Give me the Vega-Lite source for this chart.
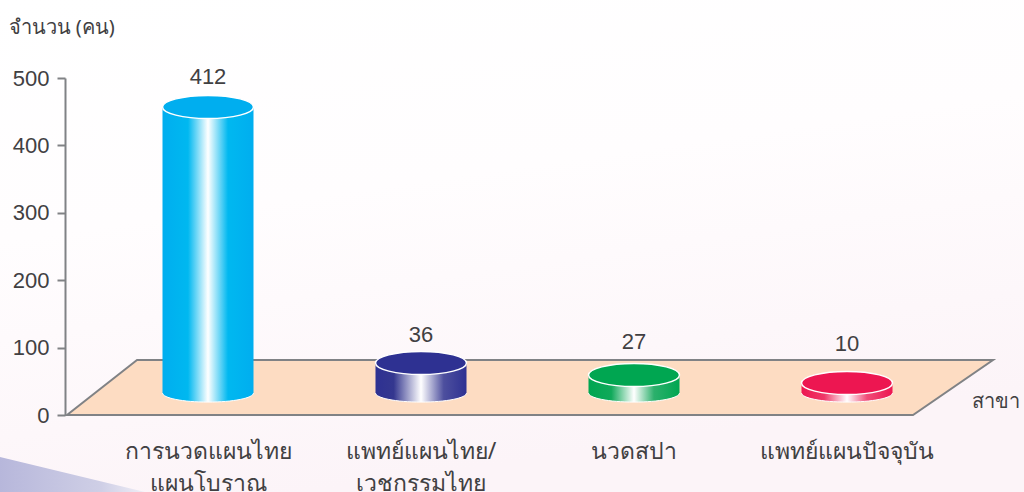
{
"$schema":"https://vega.github.io/schema/vega-lite/v6.json",
"width":959,"height":337,"autosize":"none","padding":{"left":65,"top":78,"right":0,"bottom":77},
"background":"white",
"config":{"view":{"stroke":null},"font":"Liberation Sans"},
"data":{"values":[
{"category":"การนวดแผนไทย\nแผนโบราณ","value":412},
{"category":"แพทย์แผนไทย/\nเวชกรรมไทย","value":36},
{"category":"นวดสปา","value":27},
{"category":"แพทย์แผนปัจจุบัน","value":10}]},
"resolve":{"scale":{"x":"independent","y":"independent","color":"independent"}},
"layer":[
{"data":{"values":[{"from":0,"to":1}]},
 "mark":{"type":"rect","color":{"gradient":"linear","x1":0,"y1":0,"x2":0.3,"y2":1,"stops":[{"offset":0,"color":"#ffffff"},{"offset":0.45,"color":"#fffdfe"},{"offset":1,"color":"#fcf4f8"}]}},
 "encoding":{"x":{"field":"from","type":"quantitative","scale":{"domain":[0,1],"range":[-65,959]},"axis":null},"x2":{"field":"to"},
 "y":{"field":"from","type":"quantitative","scale":{"domain":[0,1],"range":[414,-78]},"axis":null},"y2":{"field":"to"}}},
{"data":{"values":[{"across":0,"edge":457,"foot":492},{"across":145,"edge":492,"foot":492}]},
 "mark":{"type":"area","color":{"gradient":"linear","x1":0,"y1":0,"x2":1,"y2":0,"stops":[{"offset":0,"color":"#b7b7db"},{"offset":0.7,"color":"#cfcfe6"},{"offset":1,"color":"#f0eef6"}]}},
 "encoding":{"x":{"field":"across","type":"quantitative","scale":{"domain":[0,1024],"range":[-65,959]},"axis":null},
 "y":{"field":"edge","type":"quantitative","scale":{"domain":[0,492],"range":[-78,414]},"axis":null},"y2":{"field":"foot"}}},
{"data":{"values":[{"rise":0,"left":2,"right":848},{"rise":81.6,"left":72,"right":928}]},
 "mark":{"type":"area","orient":"horizontal","color":"#fddcc2","stroke":"#808285","strokeWidth":2},
 "encoding":{"x":{"field":"left","type":"quantitative","scale":{"domain":[0,959],"nice":false},"axis":null},"x2":{"field":"right"},
 "y":{"field":"rise","type":"quantitative","scale":{"domain":[0,500],"nice":false},
  "axis":{"values":[0,100,200,300,400,500],"grid":false,"zindex":1,"domainColor":"#808285","domainWidth":2,"tickColor":"#808285","tickWidth":2,"tickSize":8,"labelFontSize":22,"labelColor":"#414042","labelPadding":8,"labelFont":"Liberation Sans",
  "title":"จำนวน (คน)","titleAngle":0,"titleAlign":"left","titleBaseline":"middle","titleX":-57,"titleY":-51,"titleFontSize":20,"titleFontWeight":"normal","titleColor":"#414042","titleFont":"Noto Sans"}}}},
{"transform":[{"filter":"datum.value==412"}],
 "mark":{"type":"bar","width":91,"color":{"gradient":"linear","x1":0,"y1":0,"x2":1,"y2":0,"stops":[{"offset":0,"color":"#00aeef"},{"offset":0.28,"color":"#00b8f0"},{"offset":0.5,"color":"#ffffff"},{"offset":0.72,"color":"#00b8f0"},{"offset":1,"color":"#00aeef"}]}},
 "encoding":{"x":{"field":"category","type":"nominal","scale":{"domain":["การนวดแผนไทย\nแผนโบราณ","แพทย์แผนไทย/\nเวชกรรมไทย","นวดสปา","แพทย์แผนปัจจุบัน"],"range":[36.5,888.5],"paddingInner":0,"paddingOuter":0},
  "axis":{"domain":false,"ticks":false,"grid":false,"zindex":1,"labelAngle":0,"labelLimit":0,"labelFontSize":23,"labelColor":"#414042","labelPadding":25,"labelLineHeight":32,"labelBaseline":"top","labelFont":"Noto Sans","labelExpr":"split(datum.label,'\\n')",
  "title":"สาขา","titleX":906,"titleY":-14,"titleAlign":"left","titleBaseline":"middle","titleFontSize":20,"titleFontWeight":"normal","titleColor":"#414042","titleFont":"Noto Sans"}},
 "y":{"field":"value","type":"quantitative","scale":{"domain":[0,10,27,36,412],"range":[315,305,297,285,29]},"axis":null},"y2":{"datum":0}}},
{"transform":[{"filter":"datum.value==412"}],
 "mark":{"type":"point","filled":true,"size":8281,"shape":"M-1,0A1,0.2,0,0,0,1,0","opacity":1,"stroke":"white","strokeWidth":1,"color":{"gradient":"linear","x1":0,"y1":0,"x2":1,"y2":0,"stops":[{"offset":0,"color":"#00aeef"},{"offset":0.28,"color":"#00b8f0"},{"offset":0.5,"color":"#ffffff"},{"offset":0.72,"color":"#00b8f0"},{"offset":1,"color":"#00aeef"}]}},
 "encoding":{"x":{"field":"category","type":"nominal","scale":{"domain":["การนวดแผนไทย\nแผนโบราณ","แพทย์แผนไทย/\nเวชกรรมไทย","นวดสปา","แพทย์แผนปัจจุบัน"],"range":[36.5,888.5],"paddingInner":0,"paddingOuter":0},"axis":null},
 "y":{"datum":0,"type":"quantitative","scale":{"domain":[0,10,27,36,412],"range":[315,305,297,285,29]},"axis":null}}},
{"transform":[{"filter":"datum.value==36"}],
 "mark":{"type":"bar","width":91,"color":{"gradient":"linear","x1":0,"y1":0,"x2":1,"y2":0,"stops":[{"offset":0,"color":"#2e3192"},{"offset":0.2,"color":"#34378f"},{"offset":0.5,"color":"#ffffff"},{"offset":0.75,"color":"#4d4f9e"},{"offset":1,"color":"#2e3192"}]}},
 "encoding":{"x":{"field":"category","type":"nominal","scale":{"domain":["การนวดแผนไทย\nแผนโบราณ","แพทย์แผนไทย/\nเวชกรรมไทย","นวดสปา","แพทย์แผนปัจจุบัน"],"range":[36.5,888.5],"paddingInner":0,"paddingOuter":0},"axis":null},
 "y":{"field":"value","type":"quantitative","scale":{"domain":[0,10,27,36,412],"range":[315,305,297,285,29]},"axis":null},"y2":{"datum":0}}},
{"transform":[{"filter":"datum.value==36"}],
 "mark":{"type":"point","filled":true,"size":8281,"shape":"M-1,0A1,0.2,0,0,0,1,0","opacity":1,"stroke":"white","strokeWidth":1,"color":{"gradient":"linear","x1":0,"y1":0,"x2":1,"y2":0,"stops":[{"offset":0,"color":"#2e3192"},{"offset":0.2,"color":"#34378f"},{"offset":0.5,"color":"#ffffff"},{"offset":0.75,"color":"#4d4f9e"},{"offset":1,"color":"#2e3192"}]}},
 "encoding":{"x":{"field":"category","type":"nominal","scale":{"domain":["การนวดแผนไทย\nแผนโบราณ","แพทย์แผนไทย/\nเวชกรรมไทย","นวดสปา","แพทย์แผนปัจจุบัน"],"range":[36.5,888.5],"paddingInner":0,"paddingOuter":0},"axis":null},
 "y":{"datum":0,"type":"quantitative","scale":{"domain":[0,10,27,36,412],"range":[315,305,297,285,29]},"axis":null}}},
{"transform":[{"filter":"datum.value==27"}],
 "mark":{"type":"bar","width":91,"color":{"gradient":"linear","x1":0,"y1":0,"x2":1,"y2":0,"stops":[{"offset":0,"color":"#00a651"},{"offset":0.25,"color":"#10a95a"},{"offset":0.5,"color":"#ffffff"},{"offset":0.72,"color":"#2cb06c"},{"offset":1,"color":"#00a651"}]}},
 "encoding":{"x":{"field":"category","type":"nominal","scale":{"domain":["การนวดแผนไทย\nแผนโบราณ","แพทย์แผนไทย/\nเวชกรรมไทย","นวดสปา","แพทย์แผนปัจจุบัน"],"range":[36.5,888.5],"paddingInner":0,"paddingOuter":0},"axis":null},
 "y":{"field":"value","type":"quantitative","scale":{"domain":[0,10,27,36,412],"range":[315,305,297,285,29]},"axis":null},"y2":{"datum":0}}},
{"transform":[{"filter":"datum.value==27"}],
 "mark":{"type":"point","filled":true,"size":8281,"shape":"M-1,0A1,0.2,0,0,0,1,0","opacity":1,"stroke":"white","strokeWidth":1,"color":{"gradient":"linear","x1":0,"y1":0,"x2":1,"y2":0,"stops":[{"offset":0,"color":"#00a651"},{"offset":0.25,"color":"#10a95a"},{"offset":0.5,"color":"#ffffff"},{"offset":0.72,"color":"#2cb06c"},{"offset":1,"color":"#00a651"}]}},
 "encoding":{"x":{"field":"category","type":"nominal","scale":{"domain":["การนวดแผนไทย\nแผนโบราณ","แพทย์แผนไทย/\nเวชกรรมไทย","นวดสปา","แพทย์แผนปัจจุบัน"],"range":[36.5,888.5],"paddingInner":0,"paddingOuter":0},"axis":null},
 "y":{"datum":0,"type":"quantitative","scale":{"domain":[0,10,27,36,412],"range":[315,305,297,285,29]},"axis":null}}},
{"transform":[{"filter":"datum.value==10"}],
 "mark":{"type":"bar","width":91,"color":{"gradient":"linear","x1":0,"y1":0,"x2":1,"y2":0,"stops":[{"offset":0,"color":"#ed1651"},{"offset":0.25,"color":"#ef3768"},{"offset":0.5,"color":"#ffffff"},{"offset":0.72,"color":"#f04c78"},{"offset":1,"color":"#ed1651"}]}},
 "encoding":{"x":{"field":"category","type":"nominal","scale":{"domain":["การนวดแผนไทย\nแผนโบราณ","แพทย์แผนไทย/\nเวชกรรมไทย","นวดสปา","แพทย์แผนปัจจุบัน"],"range":[36.5,888.5],"paddingInner":0,"paddingOuter":0},"axis":null},
 "y":{"field":"value","type":"quantitative","scale":{"domain":[0,10,27,36,412],"range":[315,305,297,285,29]},"axis":null},"y2":{"datum":0}}},
{"transform":[{"filter":"datum.value==10"}],
 "mark":{"type":"point","filled":true,"size":8281,"shape":"M-1,0A1,0.2,0,0,0,1,0","opacity":1,"stroke":"white","strokeWidth":1,"color":{"gradient":"linear","x1":0,"y1":0,"x2":1,"y2":0,"stops":[{"offset":0,"color":"#ed1651"},{"offset":0.25,"color":"#ef3768"},{"offset":0.5,"color":"#ffffff"},{"offset":0.72,"color":"#f04c78"},{"offset":1,"color":"#ed1651"}]}},
 "encoding":{"x":{"field":"category","type":"nominal","scale":{"domain":["การนวดแผนไทย\nแผนโบราณ","แพทย์แผนไทย/\nเวชกรรมไทย","นวดสปา","แพทย์แผนปัจจุบัน"],"range":[36.5,888.5],"paddingInner":0,"paddingOuter":0},"axis":null},
 "y":{"datum":0,"type":"quantitative","scale":{"domain":[0,10,27,36,412],"range":[315,305,297,285,29]},"axis":null}}},
{"mark":{"type":"point","filled":true,"size":8281,"opacity":1,"shape":"M-1,0A1,0.253,0,1,1,1,0A1,0.253,0,1,1,-1,0Z","stroke":"white","strokeWidth":1.5},
 "encoding":{"x":{"field":"category","type":"nominal","scale":{"domain":["การนวดแผนไทย\nแผนโบราณ","แพทย์แผนไทย/\nเวชกรรมไทย","นวดสปา","แพทย์แผนปัจจุบัน"],"range":[36.5,888.5],"paddingInner":0,"paddingOuter":0},"axis":null},
 "y":{"field":"value","type":"quantitative","scale":{"domain":[0,10,27,36,412],"range":[315,305,297,285,29]},"axis":null},
 "color":{"field":"category","type":"nominal","legend":null,"scale":{"domain":["การนวดแผนไทย\nแผนโบราณ","แพทย์แผนไทย/\nเวชกรรมไทย","นวดสปา","แพทย์แผนปัจจุบัน"],"range":["#00aeef","#2e3192","#00a651","#ed1651"]}}}},
{"mark":{"type":"text","fontSize":22,"color":"#414042","baseline":"middle","font":"Liberation Sans"},
 "encoding":{"x":{"field":"category","type":"nominal","scale":{"domain":["การนวดแผนไทย\nแผนโบราณ","แพทย์แผนไทย/\nเวชกรรมไทย","นวดสปา","แพทย์แผนปัจจุบัน"],"range":[36.5,888.5],"paddingInner":0,"paddingOuter":0},"axis":null},
 "y":{"field":"value","type":"quantitative","scale":{"domain":[10,27,36,412],"range":[266,264,257,-1]},"axis":null},
 "text":{"field":"value","type":"quantitative"}}}
]}
